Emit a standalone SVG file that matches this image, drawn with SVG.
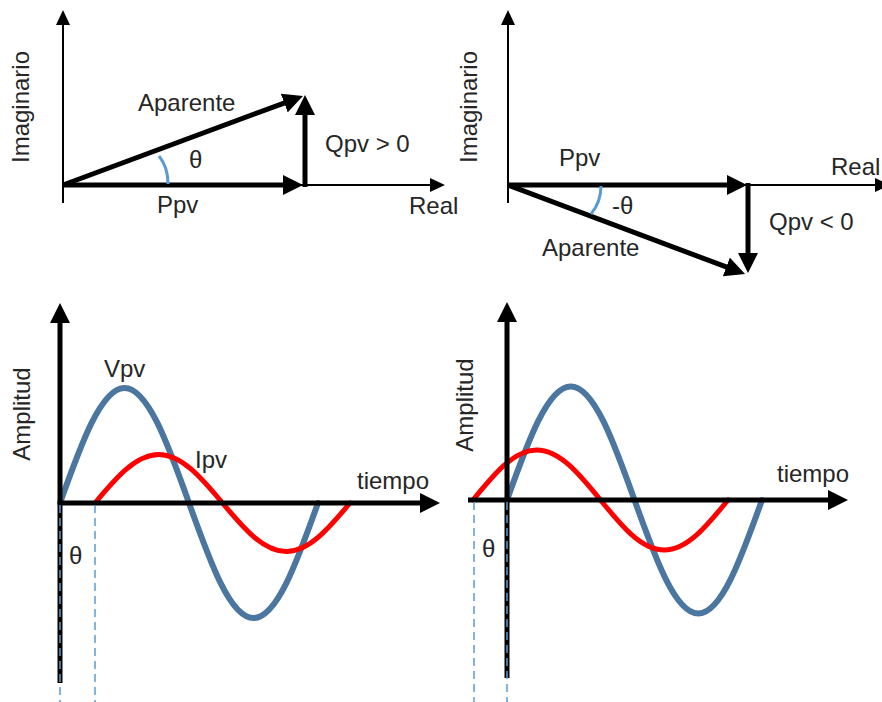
<svg xmlns="http://www.w3.org/2000/svg" width="882" height="702" viewBox="0 0 882 702">
<style>
  text { font-family: "Liberation Sans", Arial, sans-serif; font-size: 24px; fill: #262626; }
  .thin { stroke: #000; stroke-width: 2; fill: none; }
  .thick { stroke: #000; stroke-width: 5; fill: none; }
  .arc { stroke: #5B9BD5; stroke-width: 3; fill: none; }
  .dash { stroke: #5B9BD5; stroke-width: 1.5; fill: none; stroke-dasharray: 8 5; }
  .v { stroke: #4A76A0; stroke-width: 6; fill: none; stroke-linecap: round; }
  .i { stroke: #FF0000; stroke-width: 5; fill: none; stroke-linecap: round; }
</style>
<defs>
  <marker id="ah-thin" markerUnits="userSpaceOnUse" markerWidth="15" markerHeight="14" viewBox="0 0 15 14" refX="1" refY="7" orient="auto">
    <path d="M0,0 L15,7 L0,14 z" fill="#000"/>
  </marker>
  <marker id="ah-thick" markerUnits="userSpaceOnUse" markerWidth="20" markerHeight="20" viewBox="0 0 20 20" refX="2" refY="10" orient="auto">
    <path d="M0,0 L20,10 L0,20 z" fill="#000"/>
  </marker>
</defs>
<rect width="882" height="702" fill="#fff"/>

<g id="phasor-leading">
  <g id="tl-axes">
    <line class="thin" x1="63" y1="203" x2="63" y2="24" marker-end="url(#ah-thin)"/>
    <line class="thin" x1="63" y1="185" x2="431" y2="185" marker-end="url(#ah-thin)"/>
  </g>
  <g id="tl-vectors">
    <line class="thick" x1="63" y1="185" x2="285" y2="185" marker-end="url(#ah-thick)"/>
    <line class="thick" x1="305" y1="187" x2="305" y2="113" marker-end="url(#ah-thick)"/>
    <line class="thick" x1="63" y1="185" x2="286.1" y2="102.3" marker-end="url(#ah-thick)"/>
    <path class="arc" d="M168,184 Q168,167 159,156"/>
  </g>
  <text transform="translate(29,107) rotate(-90)" text-anchor="middle">Imaginario</text>
  <text x="138" y="111">Aparente</text>
  <text x="189" y="168">θ</text>
  <text x="325" y="152">Qpv &gt; 0</text>
  <text x="157" y="213">Ppv</text>
  <text x="409" y="214">Real</text>
</g>

<g id="phasor-lagging">
  <g id="tr-axes">
    <line class="thin" x1="508" y1="203" x2="508" y2="24" marker-end="url(#ah-thin)"/>
    <line class="thin" x1="508" y1="185" x2="876" y2="185" marker-end="url(#ah-thin)"/>
  </g>
  <g id="tr-vectors">
    <line class="thick" x1="508" y1="185" x2="729" y2="185" marker-end="url(#ah-thick)"/>
    <line class="thick" x1="748" y1="183" x2="748" y2="255" marker-end="url(#ah-thick)"/>
    <line class="thick" x1="508" y1="185" x2="728.2" y2="267.7" marker-end="url(#ah-thick)"/>
    <path class="arc" d="M601,186 Q601,202 591,214"/>
  </g>
  <text transform="translate(477,107) rotate(-90)" text-anchor="middle">Imaginario</text>
  <text x="559" y="166">Ppv</text>
  <text x="831" y="175">Real</text>
  <text x="612" y="214">-θ</text>
  <text x="769" y="230">Qpv &lt; 0</text>
  <text x="542" y="256">Aparente</text>
</g>

<g id="wave-lagging">
  <path class="v" d="M60,503 C81.03,444.09 101.16,388 124.5,388 C147.84,388 167.97,444.09 189,503 C210.03,561.91 230.16,618 253.5,618 C276.84,618 296.97,561.91 318,503"/>
  <path class="i" d="M95,503 C115.79,478.15 135.68,454.5 158.75,454.5 C181.82,454.5 201.71,478.15 222.5,503 C243.29,527.85 263.18,551.5 286.25,551.5 C309.32,551.5 329.21,527.85 350,503"/>
  <g id="bl-axes">
    <line class="thick" x1="60" y1="683" x2="60" y2="321" marker-end="url(#ah-thick)"/>
    <line class="thick" x1="58" y1="503" x2="422" y2="503" marker-end="url(#ah-thick)"/>
  </g>
  <line class="dash" x1="60" y1="505" x2="60" y2="702"/>
  <line class="dash" x1="95" y1="505" x2="95" y2="702"/>
  <text transform="translate(30,414) rotate(-90)" text-anchor="middle">Amplitud</text>
  <text x="104" y="377">Vpv</text>
  <text x="195" y="468">Ipv</text>
  <text x="357" y="489">tiempo</text>
  <text x="69" y="564">θ</text>
</g>

<g id="wave-leading">
  <path class="v" d="M507,500 C527.79,441.85 547.68,386.5 570.75,386.5 C593.82,386.5 613.71,441.85 634.5,500 C655.29,558.15 675.18,613.5 698.25,613.5 C721.32,613.5 741.21,558.15 762,500"/>
  <path class="i" d="M473,500 C493.79,474.4 513.68,450 536.75,450 C559.82,450 579.71,474.4 600.5,500 C621.29,525.6 641.18,550 664.25,550 C687.32,550 707.21,525.6 728,500"/>
  <g id="br-axes">
    <line class="thick" x1="507" y1="678" x2="507" y2="320" marker-end="url(#ah-thick)"/>
    <line class="thick" x1="468" y1="500" x2="830" y2="500" marker-end="url(#ah-thick)"/>
  </g>
  <line class="dash" x1="474" y1="502" x2="474" y2="702"/>
  <line class="dash" x1="507" y1="502" x2="507" y2="702"/>
  <text transform="translate(473,405) rotate(-90)" text-anchor="middle">Amplitud</text>
  <text x="777" y="482">tiempo</text>
  <text x="482" y="557">θ</text>
</g>
</svg>
